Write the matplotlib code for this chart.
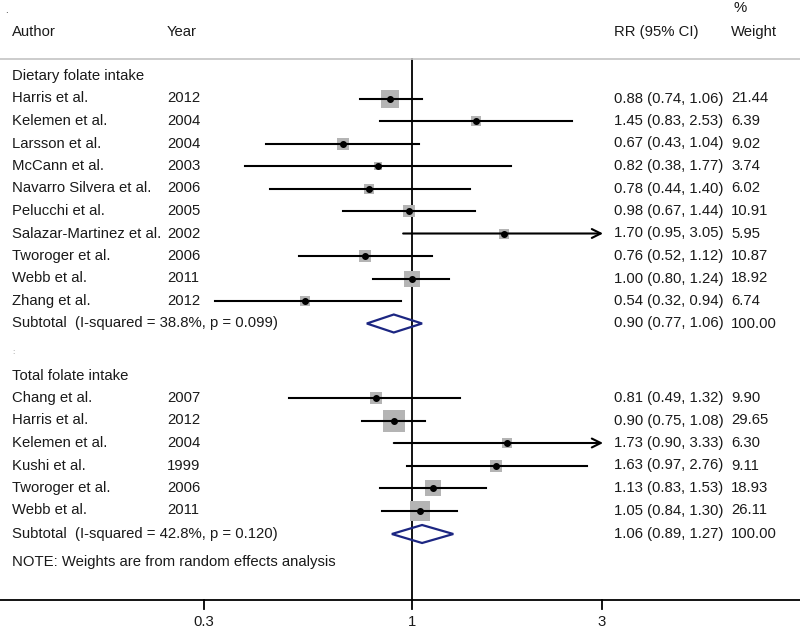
import numpy as np
import matplotlib
matplotlib.use("Agg")
import matplotlib.pyplot as plt
from matplotlib.patches import Polygon

plt.rcParams['font.family'] = ['Liberation Sans', 'DejaVu Sans']

# dietary folate intake
diet_authors = ["Harris et al.", "Kelemen et al.", "Larsson et al.", "McCann et al.",
                "Navarro Silvera et al.", "Pelucchi et al.", "Salazar-Martinez et al.",
                "Tworoger et al.", "Webb et al.", "Zhang et al."]
diet_years = [2012, 2004, 2004, 2003, 2006, 2005, 2002, 2006, 2011, 2012]
diet_rr = [0.88, 1.45, 0.67, 0.82, 0.78, 0.98, 1.70, 0.76, 1.00, 0.54]
diet_lo = [0.74, 0.83, 0.43, 0.38, 0.44, 0.67, 0.95, 0.52, 0.80, 0.32]
diet_hi = [1.06, 2.53, 1.04, 1.77, 1.40, 1.44, 3.05, 1.12, 1.24, 0.94]
diet_w = [21.44, 6.39, 9.02, 3.74, 6.02, 10.91, 5.95, 10.87, 18.92, 6.74]
diet_sub = (0.90, 0.77, 1.06)
diet_het = "Subtotal  (I-squared = 38.8%, p = 0.099)"

# total folate intake
tot_authors = ["Chang et al.", "Harris et al.", "Kelemen et al.", "Kushi et al.",
               "Tworoger et al.", "Webb et al."]
tot_years = [2007, 2012, 2004, 1999, 2006, 2011]
tot_rr = [0.81, 0.90, 1.73, 1.63, 1.13, 1.05]
tot_lo = [0.49, 0.75, 0.90, 0.97, 0.83, 0.84]
tot_hi = [1.32, 1.08, 3.33, 2.76, 1.53, 1.30]
tot_w = [9.90, 29.65, 6.30, 9.11, 18.93, 26.11]
tot_sub = (1.06, 0.89, 1.27)
tot_het = "Subtotal  (I-squared = 42.8%, p = 0.120)"

xticks = [0.3, 1, 3]

# pixel layout: x_px = X0 + DEC * log10(v)
W, H = 800, 631
X0, DEC = 412, 398
XMAX = 3.02  # plot edge, longer CIs get an arrow
ROW = 22.5
TXT = '#1a1a1a'
NAVY = '#1c2682'
FS = 10.7
C_AUTH, C_YEAR, C_RR, C_W = 12, 167, 614, 731


def px(x):
    return 10 ** ((x - X0) / DEC)


fig = plt.figure(figsize=(W / 100, H / 100), dpi=100)
ax = fig.add_axes([0, 0, 1, 1])
ax.set_xscale('log')
ax.set_xlim(px(0), px(W))
ax.set_ylim(H, 0)
ax.axis('off')


def txt(x, y, s, **kw):
    ax.text(px(x), y, s, fontsize=FS, color=TXT, va='center', **kw)


# header
ax.text(px(5), 10, ".", fontsize=7, color=TXT, va='center')
for x, s in [(C_AUTH, "Author"), (C_YEAR, "Year"), (C_RR, "RR (95% CI)"), (C_W, "Weight")]:
    txt(x, 32, s)
txt(C_W + 2, 8, "%")
ax.plot([px(0), px(W)], [59, 59], color='#c4c4c4', lw=1.2)


def study(y, a, yr, rr, lo, hi, w):
    txt(C_AUTH, y, a)
    txt(C_YEAR, y, str(yr))
    txt(C_RR, y, f"{rr:.2f} ({lo:.2f}, {hi:.2f})")
    txt(C_W, y, f"{w:.2f}")
    side = 3.9 * np.sqrt(w) * 0.72
    ax.plot([rr], [y], marker='s', ms=side, color='#b4b4b4', mew=0, zorder=2)
    if hi > XMAX:
        ax.annotate("", xy=(XMAX, y), xytext=(lo, y),
                    arrowprops=dict(arrowstyle='->', lw=1.5, color='black',
                                    mutation_scale=16, shrinkA=0, shrinkB=0), zorder=3)
    else:
        ax.plot([lo, hi], [y, y], color='black', lw=1.5, zorder=3)
    ax.plot([rr], [y], marker='o', ms=4, color='black', zorder=4)


def subtotal(y, lab, sub):
    rr, lo, hi = sub
    txt(C_AUTH, y, lab)
    txt(C_RR, y, f"{rr:.2f} ({lo:.2f}, {hi:.2f})")
    txt(C_W, y, "100.00")
    ax.add_patch(Polygon([(lo, y), (rr, y - 9), (hi, y), (rr, y + 9)], closed=True,
                         fill=False, edgecolor=NAVY, lw=1.6, zorder=5))


y = 76
txt(C_AUTH, y, "Dietary folate intake")
for i in range(len(diet_authors)):
    y += ROW
    study(y, diet_authors[i], diet_years[i], diet_rr[i], diet_lo[i], diet_hi[i], diet_w[i])
y += ROW
subtotal(y, diet_het, diet_sub)
y += ROW + 6
ax.text(px(C_AUTH), y, ":", fontsize=6, color='#888888', va='center')
y += ROW + 1
txt(C_AUTH, y, "Total folate intake")
for i in range(len(tot_authors)):
    y += ROW
    study(y, tot_authors[i], tot_years[i], tot_rr[i], tot_lo[i], tot_hi[i], tot_w[i])
y += ROW + 1
subtotal(y, tot_het, tot_sub)
y += 28
txt(C_AUTH, y, "NOTE: Weights are from random effects analysis")

# null line and x axis
ax.plot([1, 1], [59, 600], color='black', lw=1.3, zorder=1)
ax.plot([px(0), px(W)], [600, 600], color='black', lw=1.3)
for t in xticks:
    ax.plot([t, t], [600, 609], color='black', lw=1.3)
    ax.text(t, 622, f"{t:g}", fontsize=FS, color=TXT, ha='center', va='center')

fig.savefig("out.png", dpi=100)
